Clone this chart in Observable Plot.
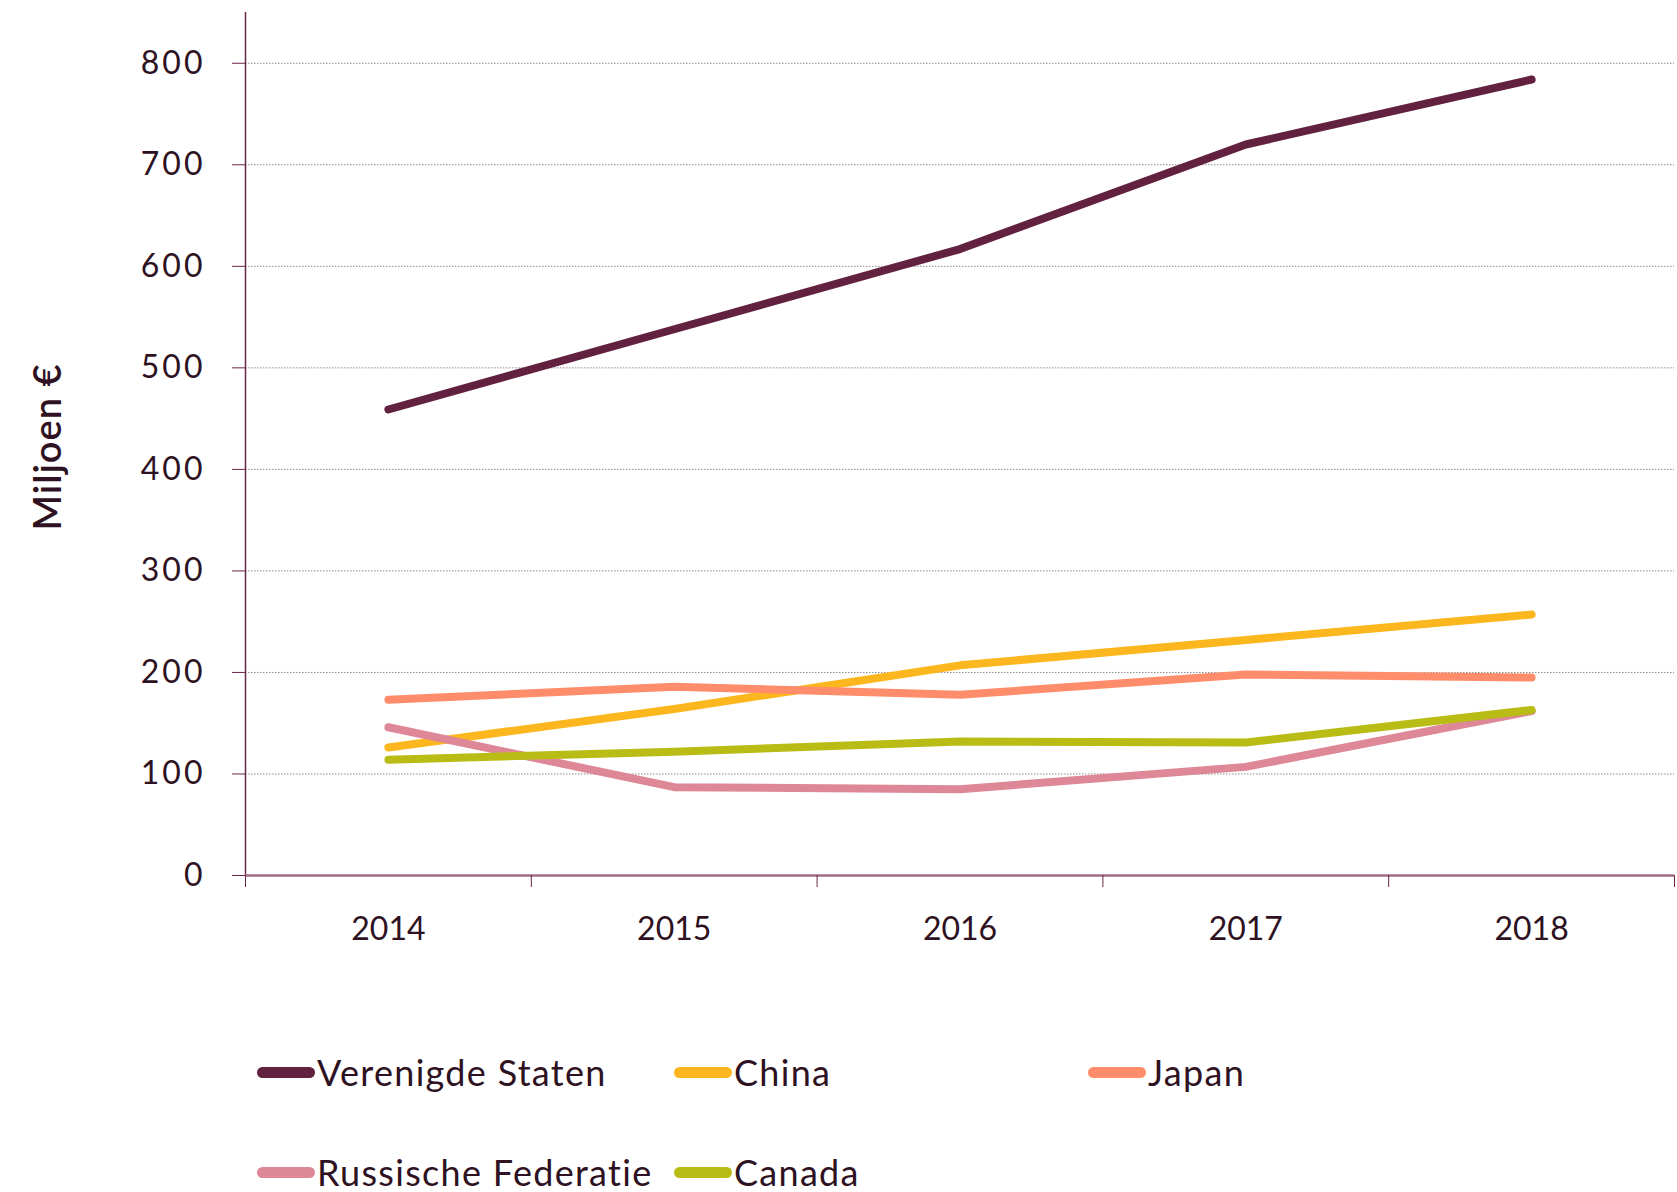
<!DOCTYPE html>
<html>
<head>
<meta charset="utf-8">
<script src="https://cdn.jsdelivr.net/npm/d3@7"></script>
<script src="https://cdn.jsdelivr.net/npm/@observablehq/plot@0.6"></script>
<style>
  html, body { margin: 0; background: #fff; font-family: Lato, "Open Sans", sans-serif; color: #2e1222; overflow: hidden; }
  #chart svg { display: block; }
  #legend { display: grid; grid-template-columns: 417px 414px auto; row-gap: 70px; padding-left: 257px; margin-top: 97px; }
  .item { display: flex; align-items: center; height: 30px; line-height: 0.8; font-size: 36px; letter-spacing: 1.3px; color: #2e1222; }
  .sw { width: 58px; height: 11px; border-radius: 6px; margin-right: 2px; }
  .ylab text { letter-spacing: 3px; }
  .ytitle text { letter-spacing: 1px; }
</style>
</head>
<body>
<div id="chart"></div>
<div id="legend"></div>
<script>
const years = [2014, 2015, 2016, 2017, 2018];
const countries = ["Verenigde Staten", "China", "Japan", "Russische Federatie", "Canada"];
const colors = ["#62213f", "#fdb71e", "#ff8d6b", "#de8796", "#babc16"];
const verenigdeStaten = [459, 538, 617, 720, 784];
const china = [126, 164, 207, 232, 257];
const japan = [173, 186, 178, 198, 195];
const russischeFederatie = [146, 87, 85, 107, 162];
const canada = [114, 122, 132, 131, 163];
const yTicks = [0, 100, 200, 300, 400, 500, 600, 700, 800];
const yLabel = "Miljoen €";

const seriesValues = [verenigdeStaten, china, japan, russischeFederatie, canada];
const data = [];
countries.forEach((c, i) => years.forEach((y, j) => data.push({country: c, year: y, value: seriesValues[i][j]})));
const boundaries = [...years.map(y => y - 0.5), years[years.length - 1] + 0.5];

const plot = Plot.plot({
  width: 1677,
  height: 960,
  marginLeft: 245,
  marginRight: 3,
  marginTop: 12,
  marginBottom: 85,
  style: {fontFamily: "Lato, sans-serif", color: "#2e1222", background: "#fff"},
  x: {type: "linear", domain: [boundaries[0], boundaries[boundaries.length - 1]]},
  y: {domain: [0, 850]},
  color: {domain: countries, range: colors},
  marks: [
    Plot.gridY(yTicks.filter(d => d > 0), {stroke: "#8a8a8a", strokeOpacity: 1, strokeWidth: 1, strokeDasharray: "1.5,1.5"}),
    Plot.ruleX([boundaries[0]], {stroke: "#6a2548", strokeWidth: 1.5}),
    Plot.ruleY([0], {stroke: "#9b6e86", strokeWidth: 2.5}),
    Plot.axisX(boundaries, {tickSize: 12, tickFormat: () => "", stroke: "#6a2548", label: null}),
    Plot.axisX(years, {tickSize: 0, tickPadding: 42, tickFormat: d => String(d), fontSize: 32, label: null, fill: "#2e1222"}),
    Plot.axisY(yTicks, {tickSize: 13, tickPadding: 27, fontSize: 32, label: null, stroke: "#6a2548", fill: "#2e1222", className: "ylab"}),
    Plot.text([yLabel], {frameAnchor: "left", dx: -197, dy: 3, rotate: -90, fontSize: 38, fontWeight: 600, fill: "#2e1222", textAnchor: "middle", lineAnchor: "middle", className: "ytitle"}),
    Plot.line(data, {x: "year", y: "value", z: "country", stroke: "country", strokeWidth: 8, strokeLinecap: "round", strokeLinejoin: "round"})
  ]
});
document.getElementById("chart").appendChild(plot);

const legend = document.getElementById("legend");
countries.forEach((c, i) => {
  const item = document.createElement("div");
  item.className = "item";
  const sw = document.createElement("span");
  sw.className = "sw";
  sw.style.background = colors[i];
  const t = document.createElement("span");
  t.textContent = c;
  item.appendChild(sw);
  item.appendChild(t);
  legend.appendChild(item);
});
</script>
</body>
</html>
